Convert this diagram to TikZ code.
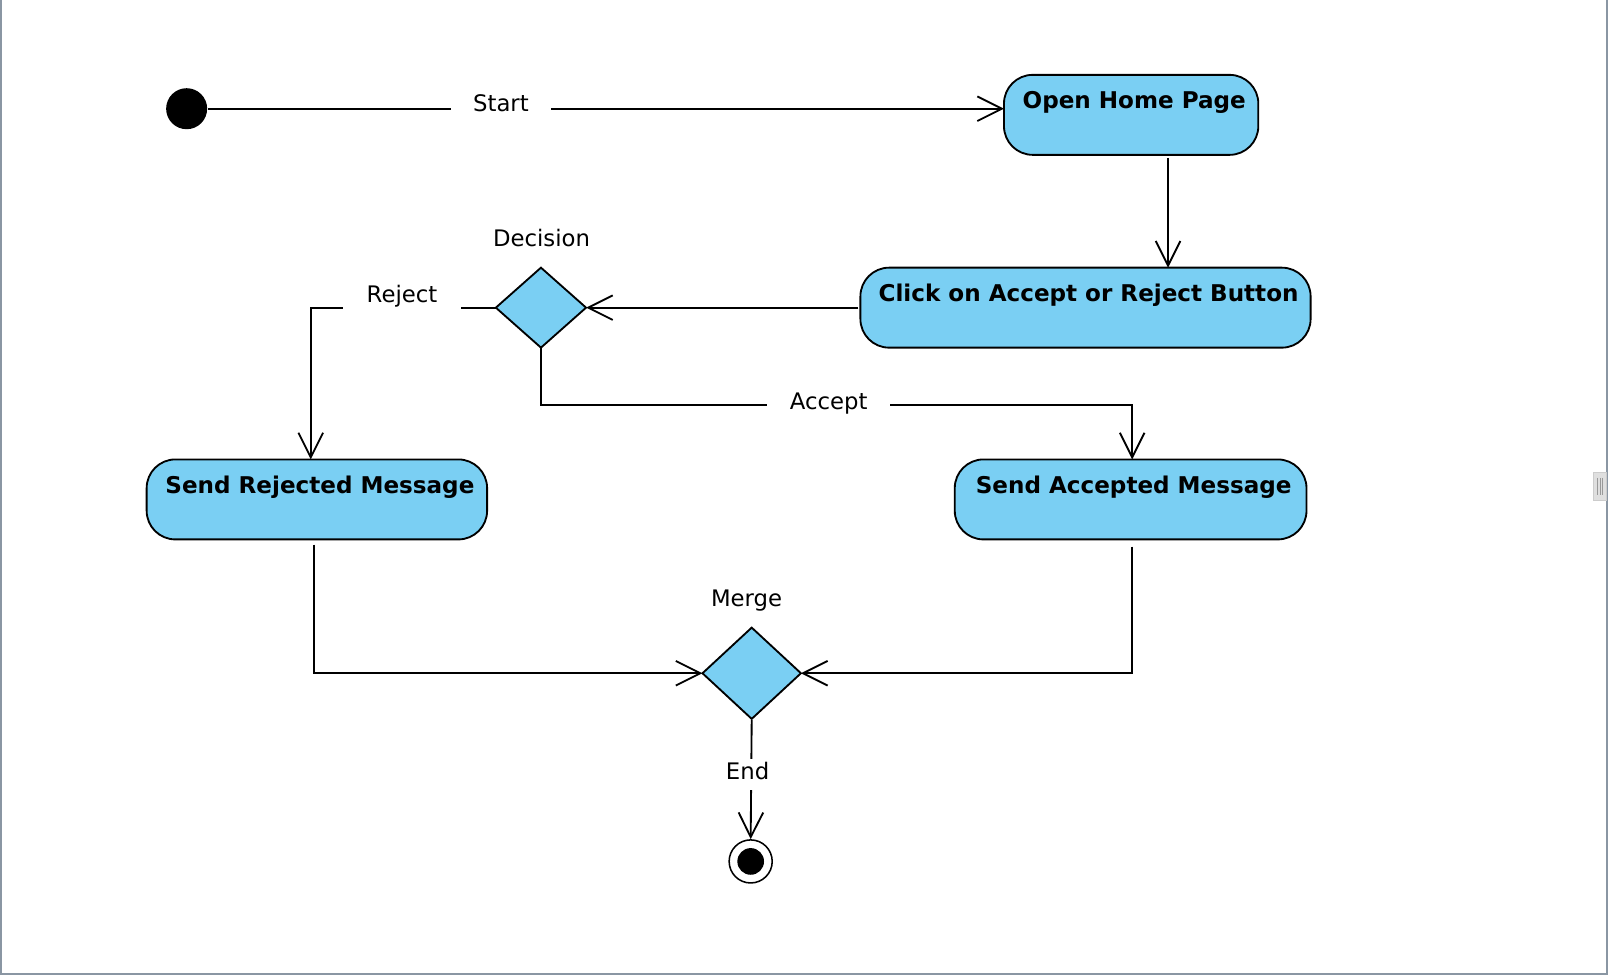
\documentclass[tikz,border=0pt]{standalone}
\usepackage{fontspec}
\setmainfont{DejaVu Sans}
\usetikzlibrary{arrows.meta,shapes.geometric,calc}
\definecolor{actfill}{RGB}{122,207,243}
\definecolor{framegray}{RGB}{138,150,163}
\begin{document}
\begin{tikzpicture}[x=1pt,y=-1pt, line width=1.8pt, font=\fontsize{22.2}{26}\selectfont,
 activity/.style={draw, fill=actfill, rounded corners=28pt, inner sep=0pt, outer sep=0pt,
   text height=33pt, text depth=45pt, font=\fontsize{22.5}{26}\selectfont\bfseries, anchor=north,
   execute at begin node=\hspace*{6pt}},
 decide/.style={diamond, draw, fill=actfill, inner sep=0pt, outer sep=0pt},
 arr/.style={-{Straight Barb[length=24pt,width=24pt]}},
 lbl/.style={fill=white, inner xsep=2pt, inner ysep=4pt, text height=16pt, text depth=6pt, anchor=base},
 plainlbl/.style={anchor=base}]
\useasboundingbox (0,0) rectangle (1568,951.7);
% frame
\draw[framegray, line width=1.5pt] (1,0) -- (1,950) -- (1567,950) -- (1567,0);
% scroll handle
\draw[fill=gray!25, draw=gray!40, line width=0.8pt] (1554,461) rectangle (1566,488);
\foreach \xx in {1558,1560.5,1563} \draw[gray!80, line width=1pt] (\xx,466) -- (\xx,483);

% nodes
\node[circle, fill=black, minimum size=40pt, inner sep=0pt] (init) at (182,106) {};
\node[activity, minimum width=248pt] (open) at (1103,73) {Open Home Page};
\node[activity, minimum width=439pt] (click) at (1058.5,261) {Click on Accept or Reject Button};
\node[decide, minimum width=88pt, minimum height=78pt] (dec) at (527.5,300) {};
\node[activity, minimum width=332pt] (rej) at (309,448) {Send Rejected Message};
\node[activity, minimum width=343pt] (acc) at (1102.5,448) {Send Accepted Message};
\node[decide, minimum width=96pt, minimum height=89pt] (merge) at (733,656.5) {};
\node[circle, draw, fill=white, line width=1.5pt, minimum size=42pt, inner sep=0pt] (final) at (732,840) {};
\fill (final.center) circle (13pt);

% connectors
\draw[arr] (init.east) -- (init.east -| open.west);
\draw[arr] ([xshift=36pt,yshift=-3pt]open.south) -- ([xshift=36pt]open.south |- click.north);
\draw[arr] ([xshift=-2pt]click.west) -- (dec.east);
\draw[arr] (dec.west) -| ([xshift=-6pt]rej.north);
\draw[arr] (dec.south) -- ++(0,56) -| ([xshift=1.5pt]acc.north);
\draw[arr] ([xshift=-3pt,yshift=-5pt]rej.south) |- (merge.west);
\draw[arr] ([xshift=1.5pt,yshift=-7pt]acc.south) |- (merge.east);
\draw[arr] ([yshift=-1pt]merge.south) -- (final.north);

% labels
\node[lbl, minimum width=97pt] (lstart) at (488.5,109) {Start};
\node[lbl, minimum width=115pt] (lrej) at (392,295) {Reject};
\node[lbl, minimum width=120pt] (lacc) at (808,399) {Accept};
\node[lbl, minimum width=50pt] (lend) at (729,760) {End};
\node[plainlbl] (ldec) at (528,240) {Decision};
\node[plainlbl] (lmerge) at (728,591) {Merge};
\end{tikzpicture}
\end{document}
